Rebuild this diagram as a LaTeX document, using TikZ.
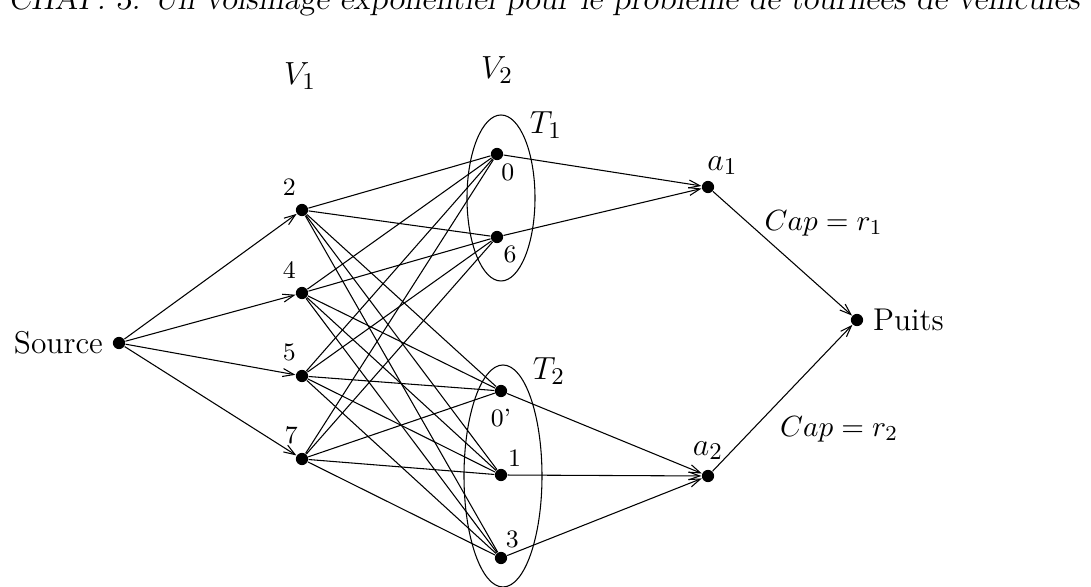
\documentclass[tikz,border=0pt]{standalone}
\usetikzlibrary{arrows.meta}

\begin{document}
\begin{tikzpicture}[
    x=0.375pt, y=-0.375pt,
    dot/.style={circle, fill, inner sep=0pt, minimum size=4.6pt},
    lbl/.style={font=\fontsize{9.4}{11}\selectfont, inner sep=1pt},
    mlbl/.style={font=\fontsize{12.5}{14}\selectfont},
    caplbl/.style={font=\fontsize{11.2}{13}\selectfont, inner sep=0pt},
    txt/.style={font=\fontsize{11.8}{13}\selectfont},
    arr/.style={-{Straight Barb[length=4.2pt, width=3pt]}, line width=0.4pt},
    edge/.style={line width=0.4pt},
]
    \useasboundingbox (0,0) rectangle (1091,587);
    \clip (0,0) rectangle (1091,587);

    % running head of the page
    \node[anchor=base west, inner sep=0pt, font=\fontsize{12}{14}\selectfont\slshape]
        (head) at (8,10) {CHAP. 3. Un voisinage exponentiel pour le problème de tournées de véhicules};

    % source and sink
    \node[dot, label={[txt]left:Source}] (src)   at (119,343) {};
    \node[dot, label={[txt]right:Puits}]  (puits) at (857,320) {};

    % V1
    \node[dot, label={[lbl,label distance=2pt]105:2}] (n2) at (302,210) {};
    \node[dot, label={[lbl,label distance=2pt]105:4}] (n4) at (302,293) {};
    \node[dot, label={[lbl,label distance=2pt]105:5}] (n5) at (302,376) {};
    \node[dot, label={[lbl,label distance=2pt]95:7}]  (n7) at (302,459) {};

    % V2
    \node[dot, label={[lbl]-80:0}]         (n0)  at (497,154) {};
    \node[dot, label={[lbl]-60:6}]         (n6)  at (497,237) {};
    \node[dot, label={[lbl,yshift=-3pt]-90:0'}] (n0p) at (501,391) {};
    \node[dot, label={[lbl]55:1}]          (n1)  at (501,475) {};
    \node[dot, label={[lbl]75:3}]          (n3)  at (501,558) {};

    % a1, a2
    \node[dot, label={[mlbl, xshift=-4pt, yshift=-1.5pt]85:$a_1$}] (a1) at (708,187) {};
    \node[dot, label={[mlbl]90:$a_2$}] (a2) at (708,476) {};

    % groups
    \draw[edge] (501,198) ellipse [x radius=34, y radius=83];
    \draw[edge] (503,476) ellipse [x radius=39, y radius=111];
    \node[mlbl] (t1) at (546,125) {$T_1$};
    \node[mlbl] (t2) at (549,371) {$T_2$};
    \node[mlbl] (v1) at (300,76) {$V_1$};
    \node[mlbl] (v2) at (497,70) {$V_2$};

    \foreach \u in {n2,n4,n5,n7} {
        \draw[arr] (src) -- (\u);
        \foreach \v in {n0,n6,n0p,n1,n3}
            \draw[edge] (\u) -- (\v);
    }
    \foreach \v in {n0,n6} \draw[arr] (\v) -- (a1);
    \foreach \v in {n0p,n1,n3} \draw[arr] (\v) -- (a2);

    \draw[arr] (a1) -- node[caplbl, anchor=west, pos=0.33, xshift=2pt, yshift=3.4pt]{$Cap=r_1$} (puits);
    \draw[arr] (a2) -- node[caplbl, anchor=west, pos=0.35, xshift=6.8pt, yshift=-3.4pt]{$Cap=r_2$} (puits);
\end{tikzpicture}
\end{document}
